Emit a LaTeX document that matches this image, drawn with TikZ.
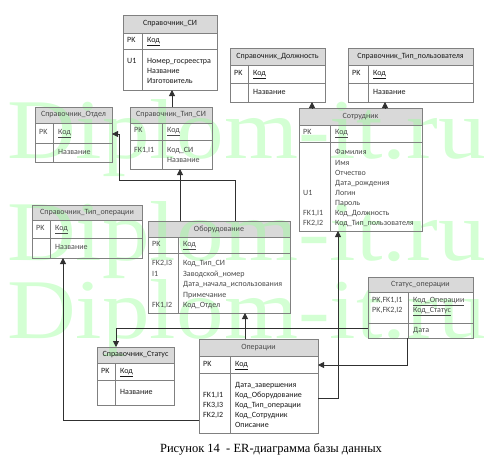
\documentclass[tikz,border=0pt]{standalone}
\usepackage{fontspec}
\usepackage{graphicx}
\setmainfont{Carlito}
\newfontfamily\capfont{Liberation Serif}
\usetikzlibrary{arrows.meta}
\pgfdeclarelayer{bglayer}
\pgfdeclarelayer{hdrlayer}
\pgfdeclarelayer{wmlayer}
\pgfsetlayers{bglayer,hdrlayer,wmlayer,main}
\definecolor{hdrgray}{HTML}{D9D9D9}
\definecolor{edgegray}{HTML}{808080}
\definecolor{wmgreen}{HTML}{93FF93}
\definecolor{txtlight}{HTML}{4A4A4A}
\definecolor{txtdark}{HTML}{1A1A1A}
\definecolor{linkcol}{HTML}{303030}
\tikzset{
  tbl/.style={draw=none, inner sep=0pt, outer sep=0pt, anchor=north west},
  edgeline/.style={draw=edgegray, line width=0.7pt},
  ttl/.style={font=\fontsize{8}{10}\selectfont, inner sep=0pt, anchor=center},
  cell/.style={font=\fontsize{8}{10}\selectfont, inner sep=0pt, anchor=west, text height=5.6pt, text depth=1.8pt},
  link/.style={draw=linkcol, line width=0.8pt, -{Triangle[width=6pt,length=6pt]}},
  wm/.style={font=\capfont\fontsize{85}{85}\selectfont, text=wmgreen, opacity=0.4, inner sep=0pt, anchor=base west},
}
\newcommand{\erframe}[8]{%
  \node[tbl, minimum width={#3-#2}, minimum height={#8-#5}] (#1) at (#2,#5) {};
  \begin{pgfonlayer}{hdrlayer}\fill[hdrgray] (#2,#5) rectangle (#3,#6);\end{pgfonlayer}
  \draw[edgeline] (#2,#5) rectangle (#3,#8) (#2,#6) -- (#3,#6) (#2,#7) -- (#3,#7) (#4,#6) -- (#4,#8);
}
\begin{document}
\begin{tikzpicture}[x=1pt,y=-1pt]
\begin{pgfonlayer}{bglayer}
\fill[white] (0,0) rectangle (490,460);
\end{pgfonlayer}
\useasboundingbox (0,0) rectangle (490,460);
% watermark
\begin{pgfonlayer}{wmlayer}
\node[wm] (wm1) at (7,158) {\scalebox{1.12}[1]{Diplom-it.ru}};
\node[wm] (wm2) at (7,260) {\scalebox{1.12}[1]{Diplom-it.ru}};
\node[wm] (wm3) at (7,338) {\scalebox{1.12}[1]{Diplom-it.ru}};
\end{pgfonlayer}

% Справочник_СИ
\erframe{si}{123}{217}{142}{15}{33}{49}{90}
\begin{scope}[every node/.append style={text=txtdark}]
\node[ttl] (si-t) at (170,24) {Справочник\_СИ};
\node[cell] (si-pk) at (127,41) {PK};
\node[cell] (si-k) at (147,41) {\underline{Код}};
\node[cell] (si-u1) at (127,62) {U1};
\foreach \t [count=\i from 0] in {Номер\_госреестра,Название,Изготовитель}
  \node[cell] (si-f\i) at (147,62+10*\i) {\t};
\end{scope}

% Справочник_Должность
\erframe{dol}{230}{325}{248}{48}{65}{83}{102}
\begin{scope}[every node/.append style={text=txtdark}]
\node[ttl] (dol-t) at (277.5,56.5) {Справочник\_Должность};
\node[cell] (dol-pk) at (234,74) {PK};
\node[cell] (dol-k) at (253,74) {\underline{Код}};
\node[cell] (dol-n) at (253,93) {Название};
\end{scope}

% Справочник_Тип_пользователя
\erframe{tpu}{348}{473}{368}{48}{65}{83}{102}
\begin{scope}[every node/.append style={text=txtdark}]
\node[ttl] (tpu-t) at (410.5,56.5) {Справочник\_Тип\_пользователя};
\node[cell] (tpu-pk) at (352,74) {PK};
\node[cell] (tpu-k) at (373,74) {\underline{Код}};
\node[cell] (tpu-n) at (373,93) {Название};
\end{scope}

% Справочник_Отдел
\erframe{otd}{35}{112}{53}{107}{123}{143}{162}
\begin{scope}[every node/.append style={text=txtlight}]
\node[ttl] (otd-t) at (73.5,115) {Справочник\_Отдел};
\node[cell] (otd-pk) at (39,133) {PK};
\node[cell] (otd-k) at (58,133) {\underline{Код}};
\node[cell] (otd-n) at (58,153) {Название};
\end{scope}

% Справочник_Тип_СИ
\erframe{tsi}{130}{212}{162}{107}{123}{140}{169}
\begin{scope}[every node/.append style={text=txtlight}]
\node[ttl] (tsi-t) at (171,115) {Справочник\_Тип\_СИ};
\node[cell] (tsi-pk) at (134,131) {PK};
\node[cell] (tsi-k) at (167,131) {\underline{Код}};
\node[cell] (tsi-fk) at (134,151) {FK1,I1};
\node[cell] (tsi-f0) at (167,151) {Код\_СИ};
\node[cell] (tsi-f1) at (167,161) {Название};
\end{scope}

% Сотрудник
\erframe{sot}{299}{422}{330}{108}{125}{142}{231}
\begin{scope}[every node/.append style={text=txtlight}]
\node[ttl] (sot-t) at (360.5,116.5) {Сотрудник};
\node[cell] (sot-pk) at (303,133) {PK};
\node[cell] (sot-k) at (335,133) {\underline{Код}};
\foreach \t [count=\i from 0] in {Фамилия,Имя,Отчество,Дата\_рождения,Логин,Пароль,Код\_Должность,Код\_Тип\_пользователя}
  \node[cell] (sot-f\i) at (335,153+10.1*\i) {\t};
\node[cell] (sot-u1) at (303,193.4) {U1};
\node[cell] (sot-fk1) at (303,213.6) {FK1,I1};
\node[cell] (sot-fk2) at (303,223.7) {FK2,I2};
\end{scope}

% Справочник_Тип_операции
\erframe{top}{32}{142}{50}{205}{220}{238}{258}
\begin{scope}[every node/.append style={text=txtlight}]
\node[ttl] (top-t) at (87,212.5) {Справочник\_Тип\_операции};
\node[cell] (top-pk) at (36,229) {PK};
\node[cell] (top-k) at (55,229) {\underline{Код}};
\node[cell] (top-n) at (55,248) {Название};
\end{scope}

% Оборудование
\erframe{obo}{148}{290}{178}{221}{237}{253}{313}
\begin{scope}[every node/.append style={text=txtlight}]
\node[ttl] (obo-t) at (219,229) {Оборудование};
\node[cell] (obo-pk) at (152,245) {PK};
\node[cell] (obo-k) at (183,245) {\underline{Код}};
\foreach \t [count=\i from 0] in {Код\_Тип\_СИ,Заводской\_номер,Дата\_начала\_использования,Примечание,Код\_Отдел}
  \node[cell] (obo-f\i) at (183,264+10.5*\i) {\t};
\node[cell] (obo-fk2) at (152,264) {FK2,I3};
\node[cell] (obo-i1) at (152,274.5) {I1};
\node[cell] (obo-fk1) at (152,306) {FK1,I2};
\end{scope}

% Статус_операции
\erframe{sto}{368}{473}{408}{277}{292}{323}{338}
\begin{scope}[every node/.append style={text=txtlight}]
\node[ttl] (sto-t) at (420.5,284.5) {Статус\_операции};
\node[cell] (sto-pk1) at (372,301) {PK,FK1,I1};
\node[cell] (sto-pk2) at (372,310.5) {PK,FK2,I2};
\node[cell] (sto-k1) at (413,301) {\underline{Код\_Операции}};
\node[cell] (sto-k2) at (413,310.5) {\underline{Код\_Статус}};
\node[cell] (sto-d) at (413,331) {Дата};
\end{scope}

% Справочник_Статус
\erframe{sst}{97}{174}{115}{347}{363}{380}{405}
\begin{scope}[every node/.append style={text=txtdark}]
\node[ttl] (sst-t) at (135.5,355) {Справочник\_Статус};
\node[cell] (sst-pk) at (101,372) {PK};
\node[cell] (sst-k) at (120,372) {\underline{Код}};
\node[cell] (sst-n) at (120,393) {Название};
\end{scope}

% Операции
\erframe{ope}{199}{318}{230}{339}{356}{373}{433}
\begin{scope}[every node/.append style={text=txtdark}]
\node[ttl, text=txtlight] (ope-t) at (258.5,347.5) {Операции};
\node[cell] (ope-pk) at (203,365) {PK};
\node[cell] (ope-k) at (235,365) {\underline{Код}};
\foreach \t [count=\i from 0] in {Дата\_завершения,Код\_Оборудование,Код\_Тип\_операции,Код\_Сотрудник,Описание}
  \node[cell] (ope-f\i) at (235,386+9.8*\i) {\t};
\node[cell] (ope-fk1) at (203,395.8) {FK1,I1};
\node[cell] (ope-fk3) at (203,405.6) {FK3,I3};
\node[cell] (ope-fk2) at (203,415.4) {FK2,I2};
\end{scope}

% connectors
\coordinate (c1) at (119,180);
\draw[link] (tsi.north -| 172,0) -- (si.south -| 172,0);
\draw[link] (sot.north -| 312,0) -- (dol.south -| 312,0);
\draw[link] (sot.north -| 385,0) -- (tpu.south -| 385,0);
\draw[link] (obo.north -| 180,0) -- (tsi.south -| 180,0);
\draw[link] (obo.north -| 235,0) |- (c1) |- (otd.east |- 0,134);
\draw[link] (ope.north -| 245,0) -- (obo.south -| 245,0);
\draw[link] (ope.east |- 0,398) -| (sot.south -| 338,0);
\draw[link] (ope.west |- 0,420) -| (top.south -| 63,0);
\draw[link] (sto.south -| 407,0) |- (ope.east |- 0,365);
\draw[link] (sto.west |- 0,328) -| (sst.north -| 116,0);

% caption
\node[font=\capfont\fontsize{12.5}{14}\selectfont, text=black, inner sep=0pt] (cap) at (271,449) {Рисунок 14\ \ - ER-диаграмма базы данных};
\end{tikzpicture}
\end{document}
